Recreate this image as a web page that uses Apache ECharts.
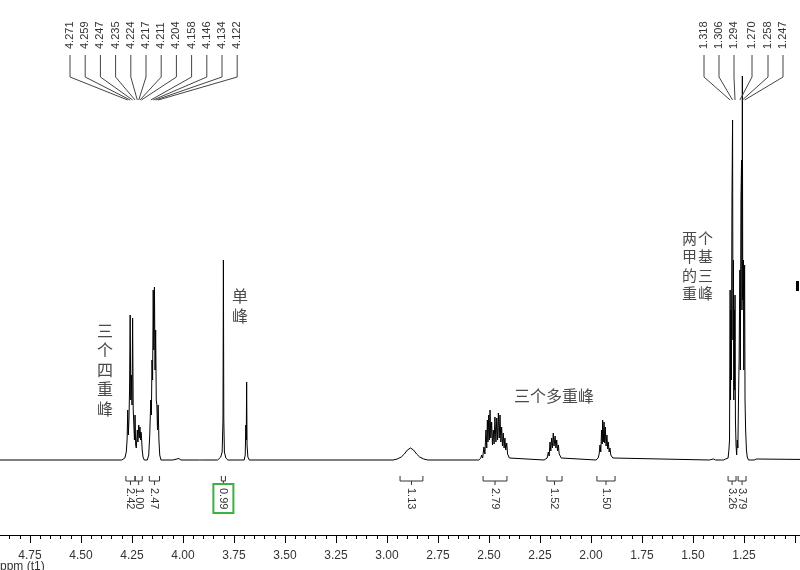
<!DOCTYPE html>
<html><head><meta charset="utf-8">
<script src="https://cdn.jsdelivr.net/npm/echarts@6/dist/echarts.min.js"></script>
<style>html,body{margin:0;padding:0;background:#fff}#c{width:800px;height:570px}</style>
</head><body><div id="c"></div>
<script>
// ---- data ----
// spectrum points: [ppm, intensity]
const spectrum = [
[4.90,0],[4.30,0],[4.285,2],[4.278,8],
[4.274,20],[4.271,50],[4.268,25],[4.265,40],[4.262,70],[4.259,145],[4.256,60],[4.253,85],[4.250,55],[4.247,142],[4.244,50],[4.241,35],[4.238,20],[4.235,45],[4.232,15],[4.229,12],[4.226,22],[4.224,30],[4.221,18],[4.219,25],[4.217,35],[4.214,22],[4.211,33],[4.208,20],[4.206,28],[4.204,25],[4.200,10],[4.196,3],[4.190,0],
[4.175,0],[4.168,5],[4.163,25],[4.158,60],[4.155,45],[4.152,100],[4.149,80],[4.146,170],[4.143,110],[4.140,173],[4.137,90],[4.134,130],[4.131,60],[4.128,55],[4.125,30],[4.122,55],[4.118,20],[4.114,5],[4.108,0],
[4.05,0],[4.02,1.5],[4.01,0],[3.92,0],[3.915,1],[3.91,0],
[3.83,0],[3.815,3],[3.808,8],[3.804,40],[3.802,200],[3.800,40],[3.797,8],[3.790,2],[3.78,0],
[3.74,0],[3.735,1.5],[3.73,0],[3.70,0],[3.695,5],[3.692,35],[3.690,20],[3.688,78],[3.686,15],[3.682,3],[3.675,0],
[2.97,0],[2.95,1],[2.93,3],[2.915,6],[2.90,10],[2.885,12],[2.87,10],[2.855,6],[2.84,3],[2.82,1],[2.80,0],
[2.55,0],[2.54,2],[2.536,5],[2.531,2],[2.525,13],[2.520,6],[2.515,30],[2.511,12],[2.508,40],[2.505,18],[2.501,45],[2.498,20],[2.495,50],[2.491,22],[2.487,38],[2.483,15],[2.479,30],[2.475,16],[2.471,43],[2.466,18],[2.462,42],[2.458,20],[2.454,47],[2.450,22],[2.446,45],[2.442,18],[2.438,33],[2.434,14],[2.430,27],[2.426,12],[2.422,22],[2.418,10],[2.413,17],[2.409,6],[2.405,8],[2.400,2],[2.395,0],
[2.23,0],[2.215,2],[2.209,8],[2.205,4],[2.201,18],[2.197,9],[2.193,22],[2.189,12],[2.185,27],[2.181,14],[2.176,24],[2.172,12],[2.168,20],[2.164,9],[2.160,15],[2.156,6],[2.152,8],[2.146,2],[2.14,0],
[1.975,0],[1.965,2],[1.960,6],[1.956,15],[1.952,8],[1.948,30],[1.945,16],[1.943,40],[1.940,18],[1.936,38],[1.933,17],[1.930,33],[1.926,14],[1.922,25],[1.918,11],[1.915,18],[1.911,8],[1.907,12],[1.903,5],[1.899,6],[1.893,2],[1.885,0],
[1.42,0],[1.40,1],[1.39,0],[1.36,0],[1.355,1.5],[1.35,0],[1.34,1],[1.335,0],[1.328,2],[1.324,10],[1.321,20],[1.318,170],[1.316,60],[1.314,150],[1.312,80],[1.309,260],[1.306,340],[1.304,120],[1.302,200],[1.300,60],[1.298,150],[1.296,70],[1.294,165],[1.292,40],[1.289,15],[1.286,5],[1.283,20],[1.280,12],[1.277,60],[1.274,100],[1.272,150],[1.270,190],[1.268,90],[1.265,260],[1.262,300],[1.260,150],[1.258,384],[1.256,160],[1.253,200],[1.251,90],[1.249,150],[1.247,195],[1.245,60],[1.242,30],[1.238,10],[1.234,3],[1.228,0],[1.22,1],[1.215,0],[1.20,0],[1.19,1],[1.185,0],[0.70,0]
];
// peak-pick labels
const peakLabelsLeft = [4.271,4.259,4.247,4.235,4.224,4.217,4.211,4.204,4.158,4.146,4.134,4.122];
const peakLabelsRight = [1.318,1.306,1.294,1.270,1.258,1.247];
// integrals: start ppm, end ppm, value
const integralStart = [4.280,4.235,4.165,3.812,2.936,2.529,2.216,1.971,1.328,1.279];
const integralEnd   = [4.235,4.200,4.115,3.792,2.824,2.412,2.142,1.882,1.289,1.240];
const integralValue = ['2.42','1.00','2.47','0.99','1.13','2.79','1.52','1.50','3.26','3.79'];
const boxedIntegral = '0.99';
// axis tick labels
const axisMin = 0.75, axisMax = 5.0, axisStep = 0.25;
const tickLabels = ['4.75','4.50','4.25','4.00','3.75','3.50','3.25','3.00','2.75','2.50','2.25','2.00','1.75','1.50','1.25'];

// ---- layout ----
const labelXLeft = peakLabelsLeft.map((_, i) => 70 + i * 15.2);
const labelXRight = [704, 719, 734, 752, 768, 783];
const FONT = '"Liberation Sans", Arial, sans-serif';
const CJK = '"Noto Sans CJK SC", sans-serif';

const fanData = peakLabelsLeft.map((p, i) => [p, 0, labelXLeft[i]])
  .concat(peakLabelsRight.map((p, i) => [p, 0, labelXRight[i]]));
const integralData = integralStart.map((s, i) => [s, integralEnd[i], integralValue[i]]);

const chart = echarts.init(document.getElementById('c'), null, {renderer: 'canvas'});
chart.setOption({
  animation: false,
  backgroundColor: '#fff',
  grid: {left: -21, right: -46, top: 0, bottom: 35, outerBoundsMode: 'none', containLabel: false},
  xAxis: {
    type: 'value', inverse: true, min: axisMin, max: axisMax, interval: axisStep,
    position: 'bottom',
    axisLine: {show: true, onZero: false, lineStyle: {color: '#000', width: 1}},
    axisTick: {show: true, length: 8, lineStyle: {color: '#000'}},
    minorTick: {show: true, splitNumber: 5, length: 4, lineStyle: {color: '#000'}},
    splitLine: {show: false},
    axisLabel: {
      margin: 15, color: '#333', fontSize: 12, fontFamily: FONT,
      formatter: v => { const s = v.toFixed(2); return tickLabels.indexOf(s) >= 0 ? s : ''; }
    }
  },
  yAxis: {type: 'value', min: -75, max: 460, show: false},
  series: [
    {
      type: 'line', data: spectrum, showSymbol: false, symbol: 'none',
      lineStyle: {color: '#000', width: 1}, sampling: null, clip: false, z: 3
    },
    {
      type: 'custom', data: fanData, clip: false, z: 4,
      renderItem: (params, api) => {
        const p = api.coord([api.value(0), 0]);
        const lx = api.value(2);
        return {
          type: 'group', children: [
            {type: 'polyline', shape: {points: [[lx, 55], [lx, 77], [p[0], 100]]},
             style: {stroke: '#444', lineWidth: 1, fill: null}},
            {type: 'text', x: lx, y: 49, rotation: Math.PI / 2,
             style: {text: api.value(0).toFixed(3), fill: '#333', fontSize: 11, fontFamily: FONT,
                     align: 'left', verticalAlign: 'middle'}}
          ]
        };
      }
    },
    {
      type: 'custom', data: integralData, clip: false, z: 4,
      renderItem: (params, api) => {
        const a = api.coord([api.value(0), 0]);
        const b = api.coord([api.value(1), 0]);
        const x1 = a[0], x2 = b[0], cx = (x1 + x2) / 2;
        const label = integralValue[params.dataIndex];
        const children = [
          {type: 'polyline', shape: {points: [[x1, 476], [x1, 481], [x2, 481], [x2, 476]]},
           style: {stroke: '#333', lineWidth: 1, fill: null}},
          {type: 'line', shape: {x1: cx, y1: 481, x2: cx, y2: 485}, style: {stroke: '#333', lineWidth: 1}},
          {type: 'text', x: cx, y: 488, rotation: -Math.PI / 2,
           style: {text: label, fill: '#333', fontSize: 11, fontFamily: FONT, align: 'left', verticalAlign: 'middle'}}
        ];
        if (label === boxedIntegral) {
          children.push({type: 'rect', shape: {x: cx - 10, y: 484, width: 20, height: 29},
            style: {stroke: '#3cb043', lineWidth: 2, fill: null}});
        }
        return {type: 'group', children};
      }
    }
  ],
  graphic: [
    {type: 'text', left: 97, top: 321, style: {text: '三\n个\n四\n重\n峰', fill: '#4a4a4a', fontSize: 16, lineHeight: 19.5, fontFamily: CJK}},
    {type: 'text', left: 232, top: 286, style: {text: '单\n峰', fill: '#4a4a4a', fontSize: 16, lineHeight: 20, fontFamily: CJK}},
    {type: 'text', left: 514, top: 388, style: {text: '三个多重峰', fill: '#4a4a4a', fontSize: 16, fontFamily: CJK}},
    {type: 'text', left: 682, top: 229, style: {text: '两\n甲\n的\n重', fill: '#4a4a4a', fontSize: 15, lineHeight: 18.5, fontFamily: CJK}},
    {type: 'text', left: 698, top: 229, style: {text: '个\n基\n三\n峰', fill: '#4a4a4a', fontSize: 15, lineHeight: 18.5, fontFamily: CJK}},
    {type: 'text', left: 0, top: 561, style: {text: 'ppm (t1)', fill: '#333', fontSize: 12, fontFamily: FONT}},
    {type: 'rect', left: 796, top: 281, shape: {width: 3, height: 10}, style: {fill: '#000'}}
  ]
});
</script></body></html>
